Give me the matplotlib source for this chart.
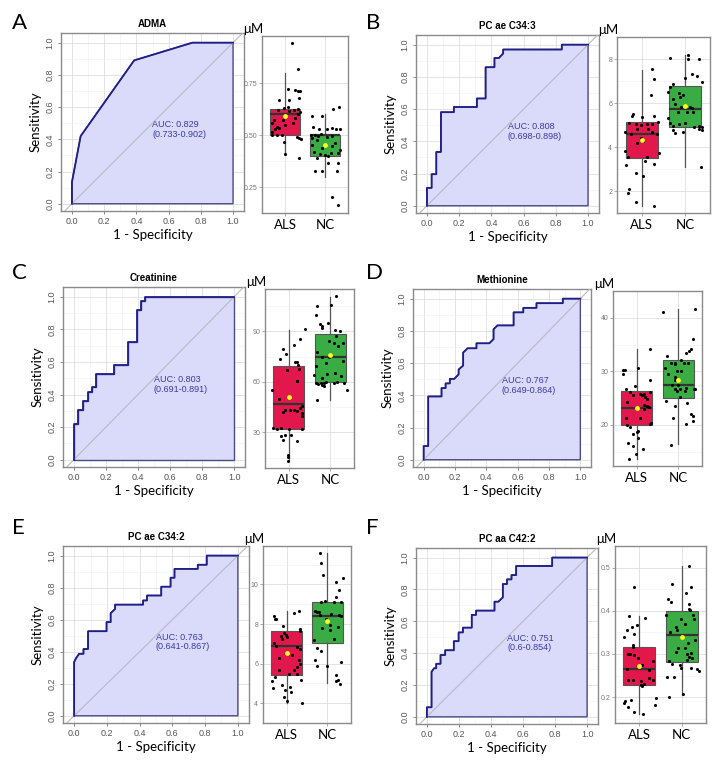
import numpy as np
import matplotlib.pyplot as plt
from matplotlib.ticker import MultipleLocator

plt.rcParams['font.family'] = ['Liberation Sans', 'DejaVu Sans']

# ---------------- ROC curves (1 - specificity, sensitivity) ----------------
fpr_A = [0, 0, 0.054, 0.386, 0.748, 1.0]
tpr_A = [0, 0.135, 0.42, 0.89, 1.0, 1.0]

fpr_B = [0, 0, 0.029, 0.029, 0.058, 0.058, 0.087, 0.087, 0.167, 0.167, 0.31, 0.31,
         0.364, 0.364, 0.419, 0.419, 0.446, 0.473, 0.473, 0.837, 0.837, 1.0]
tpr_B = [0, 0.111, 0.111, 0.196, 0.196, 0.334, 0.334, 0.581, 0.581, 0.613, 0.613, 0.666,
         0.666, 0.86, 0.86, 0.917, 0.917, 0.945, 0.97, 0.97, 1.0, 1.0]

fpr_C = [0, 0, 0.028, 0.028, 0.057, 0.057, 0.085, 0.085, 0.113, 0.113, 0.14, 0.14,
         0.251, 0.251, 0.336, 0.336, 0.391, 0.391, 0.417, 0.417, 0.445, 0.445, 1.0]
tpr_C = [0, 0.22, 0.22, 0.305, 0.305, 0.36, 0.36, 0.415, 0.415, 0.445, 0.445, 0.528,
         0.528, 0.583, 0.583, 0.724, 0.724, 0.917, 0.917, 0.972, 0.972, 1.0, 1.0]

fpr_D = [0, 0, 0.029, 0.029, 0.114, 0.114, 0.14, 0.14, 0.167, 0.167, 0.195, 0.223, 0.223,
         0.252, 0.252, 0.28, 0.337, 0.337, 0.419, 0.446, 0.446, 0.471, 0.574, 0.574,
         0.636, 0.636, 0.72, 0.72, 0.888, 0.888, 1.0]
tpr_D = [0, 0.085, 0.085, 0.393, 0.393, 0.445, 0.445, 0.474, 0.474, 0.502, 0.502, 0.53, 0.56,
         0.585, 0.665, 0.692, 0.692, 0.723, 0.723, 0.749, 0.81, 0.834, 0.834, 0.915,
         0.915, 0.943, 0.943, 0.972, 0.972, 1.0, 1.0]

fpr_E = [0, 0, 0.012, 0.03, 0.057, 0.057, 0.085, 0.085, 0.198, 0.198, 0.223, 0.223, 0.25,
         0.25, 0.421, 0.421, 0.445, 0.445, 0.532, 0.532, 0.589, 0.589, 0.613, 0.613,
         0.755, 0.755, 0.81, 0.81, 1.0]
tpr_E = [0, 0.336, 0.36, 0.387, 0.387, 0.417, 0.417, 0.528, 0.528, 0.585, 0.585, 0.64, 0.667,
         0.694, 0.694, 0.72, 0.72, 0.751, 0.751, 0.806, 0.806, 0.862, 0.862, 0.917,
         0.917, 0.943, 0.943, 1.0, 1.0]

fpr_F = [0, 0, 0.029, 0.029, 0.045, 0.058, 0.058, 0.085, 0.085, 0.114, 0.114, 0.168, 0.168,
         0.198, 0.198, 0.225, 0.225, 0.28, 0.28, 0.307, 0.307, 0.422, 0.422, 0.446, 0.474,
         0.474, 0.5, 0.5, 0.528, 0.528, 0.557, 0.557, 0.782, 0.782, 1.0]
tpr_F = [0, 0.06, 0.06, 0.283, 0.305, 0.305, 0.333, 0.333, 0.388, 0.388, 0.418, 0.418, 0.475,
         0.475, 0.53, 0.53, 0.56, 0.56, 0.64, 0.64, 0.667, 0.667, 0.723, 0.723, 0.75,
         0.834, 0.834, 0.863, 0.863, 0.89, 0.89, 0.947, 0.947, 1.0, 1.0]

titles = ['ADMA', 'PC ae C34:3', 'Creatinine', 'Methionine', 'PC ae C34:2', 'PC aa C42:2']
auc = ['0.829', '0.808', '0.803', '0.767', '0.763', '0.751']
auc_ci = ['0.733-0.902', '0.698-0.898', '0.691-0.891', '0.649-0.864', '0.641-0.867', '0.6-0.854']
letters = ['A', 'B', 'C', 'D', 'E', 'F']

# ---------------- box plots: concentrations (µM) ----------------
groups = ['ALS', 'NC']

# A  ADMA
A_als = [0.941, 0.816, 0.723, 0.719, 0.710, 0.710, 0.679, 0.668, 0.668, 0.631, 0.634, 0.621,
         0.621, 0.626, 0.615, 0.609, 0.573, 0.560, 0.575, 0.583, 0.602, 0.538, 0.535, 0.527,
         0.559, 0.551, 0.515, 0.499, 0.499, 0.502, 0.493, 0.485, 0.482, 0.467, 0.409, 0.390]
A_als_jit = [0.18, 0.32, 0.07, 0.24, 0.33, 0.38, 0.36, -0.14, 0.11, -0.03, 0.07, -0.17,
             0.23, 0.33, 0.09, 0.38, -0.27, -0.33, -0.06, 0.25, 0.32, -0.19, -0.15, -0.24,
             0.21, 0.0, -0.33, -0.33, -0.2, -0.07, 0.29, 0.35, 0.4, -0.03, 0.0, 0.36]
A_nc = [0.594, 0.594, 0.628, 0.633, 0.538, 0.531, 0.531, 0.535, 0.531, 0.531, 0.499, 0.499,
        0.494, 0.506, 0.491, 0.494, 0.486, 0.478, 0.454, 0.438, 0.446, 0.462, 0.430, 0.419,
        0.409, 0.403, 0.414, 0.414, 0.390, 0.398, 0.326, 0.326, 0.326, 0.366, 0.366, 0.200, 0.165]
A_nc_jit = [-0.33, -0.07, 0.21, 0.34, -0.29, -0.15, 0.04, 0.17, 0.27, 0.37, -0.35, -0.25,
            -0.17, -0.09, 0.04, 0.17, -0.33, -0.21, -0.33, -0.08, 0.18, 0.25, 0.38, -0.27,
            -0.13, 0.0, 0.15, 0.32, -0.19, 0.08, -0.25, -0.08, 0.29, 0.07, 0.33, 0.18, 0.32]
A_box = [(0.406, 0.499, 0.602, 0.628, 0.80), (0.30, 0.401, 0.499, 0.502, 0.602)]
A_mean = [0.591, 0.451]
A_ylim = (0.125, 0.977)
A_ticks = [0.25, 0.50, 0.75]
A_ticklabels = ['0.25', '0.50', '0.75']

# B  PC ae C34:3
B_als = [7.53, 7.07, 6.36, 5.50, 5.43, 5.36, 5.40, 5.11, 5.04, 5.01, 5.03, 5.03,
         5.14, 4.83, 4.83, 4.66, 4.61, 4.69, 4.57, 4.40, 4.29, 4.16, 3.83, 3.73,
         3.54, 3.54, 3.36, 3.17, 3.21, 2.80, 2.66, 2.11, 1.91, 1.50, 1.30]
B_als_jit = [0.23, 0.29, 0.21, -0.21, -0.23, 0.0, 0.28, -0.29, -0.13, -0.02, 0.11, 0.23,
             0.38, -0.11, 0.14, -0.38, -0.25, 0.23, 0.36, -0.02, 0.02, -0.11, -0.38, 0.39,
             -0.33, 0.13, 0.08, -0.36, 0.29, -0.14, 0.03, -0.29, -0.31, -0.14, 0.29]
B_nc = [8.03, 8.20, 8.01, 8.01, 7.30, 7.24, 7.14, 6.97, 6.87, 6.73, 6.51, 6.47,
        6.37, 6.19, 6.26, 5.97, 5.83, 5.83, 5.79, 5.34, 5.59, 5.57, 5.57, 5.09,
        4.97, 5.04, 5.09, 4.90, 4.94, 4.90, 4.83, 4.79, 4.64, 4.69, 4.79, 3.11]
B_nc_jit = [-0.35, 0.06, 0.07, 0.33, 0.17, 0.28, -0.01, 0.38, -0.29, -0.35, -0.39, -0.15,
            -0.06, -0.29, -0.13, -0.23, -0.09, 0.11, 0.16, -0.39, -0.17, 0.04, 0.19, -0.35,
            -0.29, -0.14, 0.0, 0.21, 0.31, 0.39, 0.33, -0.29, -0.23, -0.06, 0.38, 0.36]
B_box = [(1.30, 3.50, 4.59, 5.14, 7.51), (3.11, 4.93, 5.73, 6.77, 8.20)]
B_mean = [4.31, 5.87]
B_ylim = (1.0, 8.51)
B_ticks = [2, 4, 6, 8]
B_ticklabels = ['2', '4', '6', '8']

# C  Creatinine
C_als = [91.4, 85.4, 82.1, 79.7, 76.7, 73.8, 71.6, 71.6, 70.2, 67.6, 66.8, 60.7,
         60.3, 55.0, 49.8, 43.5, 42.3, 43.5, 43.1, 42.5, 44.5, 45.4, 41.5, 39.5,
         32.4, 32.0, 32.3, 32.1, 32.2, 28.6, 28.2, 27.6, 25.2, 24.9, 16.7, 15.3, 13.2]
C_als_jit = [0.39, 0.26, 0.12, -0.15, -0.07, -0.22, 0.16, 0.2, 0.22, 0.24, -0.04, 0.2,
             0.19, -0.4, -0.24, -0.08, -0.14, 0.04, 0.12, 0.19, 0.28, 0.33, 0.31, 0.33,
             -0.37, -0.28, -0.2, 0.0, 0.31, -0.1, 0.06, -0.2, -0.14, 0.2, -0.02, -0.02, -0.01]
C_nc = [110.8, 104.9, 105.8, 99.9, 94.6, 93.4, 95.0, 92.0, 90.6, 90.4, 87.4, 84.1,
        83.1, 83.1, 81.5, 77.5, 74.8, 74.8, 71.2, 72.2, 69.6, 64.3, 64.7, 65.3,
        62.3, 63.3, 59.3, 58.9, 59.3, 59.3, 59.9, 57.9, 57.3, 59.3, 59.9, 59.3, 55.3, 49.4]
C_nc_jit = [0.14, -0.31, 0.02, -0.35, -0.25, -0.19, -0.05, -0.21, 0.11, 0.24, 0.14, -0.02,
            0.1, 0.3, 0.18, -0.31, -0.19, -0.02, -0.11, 0.3, -0.35, -0.39, -0.07, 0.11,
            -0.21, 0.26, -0.35, -0.29, -0.23, -0.15, -0.09, -0.19, -0.16, 0.1, 0.16, 0.33, 0.4, -0.31]
C_box = [(12.8, 32.0, 47.0, 69.2, 91.0), (49.4, 59.9, 74.6, 88.6, 110.4)]
C_mean = [51.2, 75.7]
C_ylim = (8.8, 115.1)
C_ticks = [30, 60, 90]
C_ticklabels = ['30', '60', '90']

# D  Methionine
D_als = [34.2, 30.7, 30.2, 30.2, 29.4, 26.7, 27.2, 28.3, 25.8, 25.8, 25.2, 24.9,
         25.5, 26.2, 25.6, 26.2, 24.2, 23.7, 23.5, 23.3, 22.9, 21.2, 21.3, 20.2,
         20.4, 20.0, 19.5, 18.8, 18.7, 18.3, 17.5, 16.6, 16.0, 15.5, 14.6, 13.7]
D_als_jit = [0.32, 0.04, -0.33, -0.29, -0.33, -0.25, -0.04, 0.33, 0.08, 0.17, 0.21, 0.25,
             0.13, -0.17, -0.08, 0.33, -0.23, 0.17, 0.25, 0.29, 0.17, -0.25, 0.08, 0.32,
             0.35, -0.23, -0.17, 0.04, 0.0, -0.08, 0.02, -0.21, -0.08, 0.15, -0.02, -0.18]
D_nc = [41.0, 41.6, 36.0, 34.2, 33.8, 33.4, 32.9, 32.2, 31.6, 31.5, 31.5, 31.6,
        31.3, 30.6, 30.0, 30.1, 29.4, 29.0, 28.4, 27.4, 27.4, 26.8, 26.6, 26.4,
        26.7, 26.6, 26.6, 26.4, 25.1, 24.4, 24.1, 23.5, 22.0, 21.6, 20.8, 21.3, 20.1, 16.3]
D_nc_jit = [-0.36, 0.4, 0.35, 0.32, 0.27, 0.19, -0.28, 0.07, -0.08, -0.18, 0.15, 0.23,
            -0.07, -0.31, -0.03, 0.07, -0.25, -0.08, -0.07, -0.15, 0.0, 0.18, -0.07, -0.02,
            0.04, 0.37, 0.4, 0.17, 0.04, -0.29, 0.21, -0.07, 0.32, 0.36, 0.35, -0.13, 0.18, -0.17]
D_box = [(13.7, 19.9, 23.2, 26.4, 34.2), (16.5, 25.0, 27.4, 32.1, 41.6)]
D_mean = [23.2, 28.4]
D_ylim = (12.3, 42.8)
D_ticks = [20, 30, 40]
D_ticklabels = ['20', '30', '40']

# E  PC ae C34:2
E_als = [8.39, 8.23, 8.23, 8.58, 8.66, 7.91, 7.77, 7.64, 7.53, 7.38, 7.45, 7.25,
         7.34, 7.06, 6.88, 6.83, 6.72, 6.41, 6.28, 6.20, 6.00, 5.81, 5.69, 5.66,
         5.50, 5.50, 5.34, 5.16, 5.11, 4.91, 4.75, 4.80, 4.67, 4.59, 4.33, 4.13, 4.00]
E_als_jit = [-0.31, -0.29, -0.25, 0.18, 0.3, -0.08, 0.33, 0.34, -0.05, -0.13, -0.02, -0.11,
             0.02, -0.31, -0.25, 0.26, 0.33, 0.14, -0.19, 0.3, 0.34, 0.25, 0.18, -0.19,
             0.07, 0.26, -0.27, 0.36, -0.35, -0.12, -0.33, 0.08, -0.04, 0.1, -0.07, 0.0, 0.39]
E_nc = [11.59, 11.09, 10.50, 10.11, 10.30, 9.72, 9.36, 9.16, 9.09, 9.09, 9.09, 8.67,
        8.63, 8.59, 8.47, 8.50, 8.47, 8.42, 8.23, 7.84, 7.95, 7.80, 7.69, 7.25,
        7.17, 6.78, 6.63, 6.20, 6.08, 5.88, 5.88, 5.41, 5.19, 5.11, 4.98]
E_nc_jit = [-0.18, -0.16, -0.11, 0.2, 0.39, 0.27, 0.22, -0.07, -0.16, 0.15, 0.33, -0.3,
            -0.25, -0.2, -0.18, 0.08, 0.27, 0.33, -0.04, 0.25, 0.07, -0.14, 0.07, 0.16,
            -0.33, -0.25, -0.15, -0.3, 0.33, -0.26, -0.02, 0.21, 0.25, 0.2, 0.31]
E_box = [(4.0, 5.42, 6.88, 7.64, 8.66), (5.0, 7.06, 8.39, 9.09, 11.59)]
E_mean = [6.56, 8.13]
E_ylim = (3.66, 11.94)
E_ticks = [4, 6, 8, 10]
E_ticklabels = ['4', '6', '8', '10']

# F  PC aa C42:2
F_als = [0.455, 0.389, 0.383, 0.368, 0.362, 0.356, 0.346, 0.339, 0.321, 0.315, 0.299, 0.299,
         0.297, 0.290, 0.283, 0.274, 0.264, 0.263, 0.240, 0.240, 0.237, 0.240, 0.231, 0.225,
         0.229, 0.245, 0.199, 0.182, 0.194, 0.191, 0.186, 0.177, 0.166, 0.162]
F_als_jit = [-0.13, -0.25, 0.13, -0.06, -0.18, -0.28, -0.12, -0.37, -0.14, -0.16, -0.23, -0.27,
             -0.12, -0.02, 0.32, 0.07, -0.28, 0.22, -0.27, -0.16, 0.04, 0.32, 0.11, 0.07,
             0.05, 0.22, 0.4, 0.38, -0.2, -0.33, -0.37, -0.27, -0.12, 0.08]
F_nc = [0.504, 0.463, 0.455, 0.442, 0.416, 0.403, 0.401, 0.428, 0.421, 0.391, 0.391, 0.382,
        0.381, 0.369, 0.363, 0.356, 0.351, 0.333, 0.326, 0.313, 0.313, 0.304, 0.301, 0.299,
        0.294, 0.291, 0.283, 0.277, 0.286, 0.274, 0.268, 0.266, 0.261, 0.268, 0.247, 0.247,
        0.207, 0.200]
F_nc_jit = [0.17, -0.23, 0.22, 0.11, 0.17, 0.18, 0.19, -0.33, -0.25, -0.38, 0.26, -0.02,
            0.28, 0.07, -0.14, -0.1, -0.27, 0.32, 0.15, 0.07, -0.08, -0.14, 0.22, 0.13,
            0.17, 0.25, -0.31, -0.24, 0.13, -0.03, -0.02, 0.36, 0.4, 0.23, -0.35, -0.18,
            0.03, -0.31]
F_box = [(0.162, 0.227, 0.265, 0.317, 0.389), (0.204, 0.281, 0.345, 0.400, 0.503)]
F_mean = [0.271, 0.340]
F_ylim = (0.14, 0.522)
F_ticks = [0.2, 0.3, 0.4, 0.5]
F_ticklabels = ['0.2', '0.3', '0.4', '0.5']

# ---------------- layout (pixel boxes: left, top, right, bottom) ----------------
W, H = 726, 763
fig = plt.figure(figsize=(W / 100, H / 100), dpi=100)


def rect(l, t, r, b):
    return [l / W, 1 - b / H, (r - l) / W, (b - t) / H]


roc_boxes = [(61, 33, 244, 211), (416, 35, 599, 213), (63, 287, 245, 467),
             (413, 289, 591, 467), (63, 546, 249, 723), (416, 548, 598, 724)]
box_boxes = [(262, 36, 348, 213), (617, 37, 710, 213), (265, 289, 354, 468),
             (613, 291, 702, 466), (263, 546, 351, 723), (615, 546, 706, 723)]
letter_pos = [(12, 13), (366, 13), (12, 263), (366, 263), (12, 518), (366, 518)]

rocs = [(fpr_A, tpr_A), (fpr_B, tpr_B), (fpr_C, tpr_C),
        (fpr_D, tpr_D), (fpr_E, tpr_E), (fpr_F, tpr_F)]
boxes = [
    (A_als, A_als_jit, A_nc, A_nc_jit, A_box, A_mean, A_ylim, A_ticks, A_ticklabels),
    (B_als, B_als_jit, B_nc, B_nc_jit, B_box, B_mean, B_ylim, B_ticks, B_ticklabels),
    (C_als, C_als_jit, C_nc, C_nc_jit, C_box, C_mean, C_ylim, C_ticks, C_ticklabels),
    (D_als, D_als_jit, D_nc, D_nc_jit, D_box, D_mean, D_ylim, D_ticks, D_ticklabels),
    (E_als, E_als_jit, E_nc, E_nc_jit, E_box, E_mean, E_ylim, E_ticks, E_ticklabels),
    (F_als, F_als_jit, F_nc, F_nc_jit, F_box, F_mean, F_ylim, F_ticks, F_ticklabels),
]

label_font = ['Lato', 'DejaVu Sans']
border = '#8a8a8a'

for i in range(6):
    # ---- ROC panel ----
    ax = fig.add_axes(rect(*roc_boxes[i]))
    fpr, tpr = rocs[i]
    ax.fill(list(fpr) + [1, 0], list(tpr) + [0, 0], facecolor='#dadafb',
            edgecolor='#4b4b86', lw=1.0, zorder=2)
    ax.plot([-0.2, 1.2], [-0.2, 1.2], color='#b9b9c4', lw=0.8, zorder=3)
    ax.plot(fpr, tpr, color='#1f1f8a', lw=1.3, zorder=4)
    ax.set_xlim(-0.068, 1.068)
    ax.set_ylim(-0.045, 1.06)
    ax.xaxis.set_major_locator(MultipleLocator(0.2))
    ax.yaxis.set_major_locator(MultipleLocator(0.2))
    ax.xaxis.set_minor_locator(MultipleLocator(0.1))
    ax.yaxis.set_minor_locator(MultipleLocator(0.1))
    ax.xaxis.set_major_formatter(lambda v, p: f'{v:.1f}')
    ax.yaxis.set_major_formatter(lambda v, p: f'{v:.1f}')
    ax.grid(which='major', color='#dedede', lw=0.6)
    ax.grid(which='minor', color='#efefef', lw=0.4)
    ax.set_axisbelow(True)
    ax.tick_params(which='major', labelsize=6.5, labelcolor='#555555', color='#777777',
                   length=2.5, width=0.6, pad=2)
    ax.tick_params(which='minor', length=0)
    for lab in ax.get_yticklabels():
        lab.set_rotation(90)
        lab.set_va('center')
    for s in ax.spines.values():
        s.set_color(border)
        s.set_linewidth(1.0)
    ax.set_title(titles[i], fontsize=7, fontweight='bold', pad=4)
    ax.text(0.5, 0.462, f'AUC: {auc[i]}\n({auc_ci[i]})', fontsize=6.5, color='#3a3aa6',
            ha='left', va='center', linespacing=1.05, zorder=5)
    ax.set_xlabel('1 - Specificity', fontsize=9.5, family=label_font, labelpad=2)
    ax.set_ylabel('Sensitivity', fontsize=9.5, family=label_font, labelpad=3)

    # ---- box panel ----
    als, als_j, nc, nc_j, st, mean, ylim, ticks, ticklabels = boxes[i]
    bx = fig.add_axes(rect(*box_boxes[i]))
    stats = [dict(whislo=s[0], q1=s[1], med=s[2], q3=s[3], whishi=s[4], fliers=[])
             for s in st]
    bp = bx.bxp(stats, positions=[1, 2], widths=0.75, patch_artist=True,
                showcaps=False, showfliers=False,
                boxprops=dict(edgecolor='#555555', linewidth=0.8),
                medianprops=dict(color='#333333', linewidth=1.6),
                whiskerprops=dict(color='#555555', linewidth=0.9))
    for patch, col in zip(bp['boxes'], ['#e2174b', '#39ac44']):
        patch.set_facecolor(col)
    bx.scatter(1 + np.array(als_j), als, s=5, color='black', lw=0, zorder=4)
    bx.scatter(2 + np.array(nc_j), nc, s=5, color='black', lw=0, zorder=4)
    bx.scatter([1, 2], mean, s=12, color='#ffff1a', lw=0, zorder=5)
    bx.set_xlim(0.425, 2.575)
    bx.set_ylim(*ylim)
    bx.set_xticks([1, 2])
    bx.set_xticklabels(groups, fontsize=9.5, family=label_font)
    bx.set_yticks(ticks)
    bx.set_yticklabels(ticklabels)
    step = ticks[1] - ticks[0]
    bx.set_yticks([t - step / 2 for t in ticks] + [ticks[-1] + step / 2], minor=True)
    bx.grid(which='major', color='#dedede', lw=0.6)
    bx.grid(which='minor', axis='y', color='#efefef', lw=0.4)
    bx.set_axisbelow(True)
    bx.tick_params(axis='y', labelsize=5, labelcolor='#777777', color='#888888',
                   length=2, width=0.5, pad=1.5)
    bx.tick_params(axis='x', length=2, width=0.5, color='#888888', pad=2)
    bx.tick_params(which='minor', length=0)
    for s in bx.spines.values():
        s.set_color(border)
        s.set_linewidth(1.0)
    l, t, r, b = box_boxes[i]
    fig.text((l + 1) / W, 1 - (t - 1) / H, 'μM', fontsize=9.5, family=label_font,
             ha='right', va='bottom')

    lx, ly = letter_pos[i]
    fig.text(lx / W, 1 - ly / H, letters[i], fontsize=16, family=label_font,
             ha='left', va='top')

fig.savefig('out.png', dpi=100)
